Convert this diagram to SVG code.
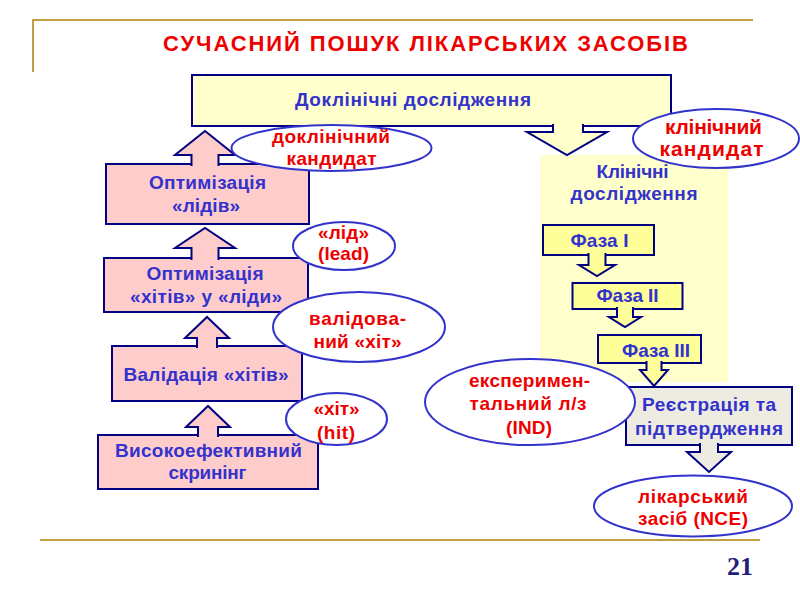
<svg xmlns="http://www.w3.org/2000/svg" width="800" height="600" viewBox="0 0 800 600">
<style>
  text { font-family: "Liberation Sans", Arial, sans-serif; font-weight: bold; text-anchor: middle; }
  .t { font-size: 19px; fill: #3333CC; }
  .r { font-size: 19px; fill: #EE0000; }
  .r21 { font-size: 21px; fill: #EE0000; }
  .title { font-size: 22px; fill: #EE0000; }
  .pink { fill: #FFCCCC; stroke: #000080; stroke-width: 2; }
  .ylt { fill: #FFFFCC; stroke: #000080; stroke-width: 2; }
  .ydk { fill: #FFFF99; stroke: #000080; stroke-width: 2; }
  .beige { fill: #EEECE1; stroke: #000080; stroke-width: 2; }
  .ell { fill: #FFFFFF; stroke: #3333CC; stroke-width: 2; }
  .gold { stroke: #C0A040; stroke-width: 2; fill: none; }
  .num { font-family: "Liberation Serif", "Times New Roman", serif; font-size: 26px; fill: #1F1F7A; }
</style>

<g id="frame">
  <path class="gold" d="M33,72 V20 H753"/>
  <line class="gold" x1="40" y1="540" x2="760" y2="540"/>
  <text class="title" x="425.5" y="51" textLength="525" lengthAdjust="spacing">СУЧАСНИЙ ПОШУК ЛІКАРСЬКИХ ЗАСОБІВ</text>
  <text class="num" x="740" y="575">21</text>
</g>

<g id="clinical-area">
  <rect x="540" y="155" width="188" height="227" fill="#FFFFCC"/>
  <text class="t" x="632.5" y="177.5" textLength="72" lengthAdjust="spacing">Клінічні</text>
  <text class="t" x="634" y="200" textLength="127" lengthAdjust="spacing">дослідження</text>
</g>

<g id="preclinical">
  <rect class="ylt" x="192" y="75" width="479" height="51"/>
  <text class="t" x="413" y="106" textLength="236" lengthAdjust="spacing">Доклінічні дослідження</text>
</g>

<g id="opt-leads">
  <rect class="pink" x="106" y="164" width="203" height="60"/>
  <text class="t" x="207.5" y="188.5" textLength="117" lengthAdjust="spacing">Оптимізація</text>
  <text class="t" x="206" y="211.5" textLength="68" lengthAdjust="spacing">«лідів»</text>
</g>

<g id="opt-hits">
  <rect class="pink" x="104" y="258" width="204" height="54"/>
  <text class="t" x="205" y="280" textLength="117" lengthAdjust="spacing">Оптимізація</text>
  <text class="t" x="206" y="302.5" textLength="152" lengthAdjust="spacing">«хітів» у «ліди»</text>
</g>

<g id="validation">
  <rect class="pink" x="112" y="346" width="190" height="55"/>
  <text class="t" x="206" y="380.5" textLength="165" lengthAdjust="spacing">Валідація «хітів»</text>
</g>

<g id="screening">
  <rect class="pink" x="98" y="435" width="220" height="54"/>
  <text class="t" x="208.5" y="456.5" textLength="187" lengthAdjust="spacing">Високоефективний</text>
  <text class="t" x="207.5" y="478.5" textLength="78" lengthAdjust="spacing">скринінг</text>
</g>

<g id="phase1">
  <rect class="ydk" x="543" y="225" width="111" height="30"/>
  <text class="t" x="599.5" y="246.5" textLength="58" lengthAdjust="spacing">Фаза I</text>
</g>

<g id="phase2">
  <rect class="ydk" x="572.5" y="283" width="110" height="26"/>
  <text class="t" x="627.5" y="302" textLength="62" lengthAdjust="spacing">Фаза II</text>
</g>

<g id="phase3">
  <rect class="ydk" x="598" y="335" width="103" height="28"/>
  <text class="t" x="656" y="356.5" textLength="68" lengthAdjust="spacing">Фаза III</text>
</g>

<g id="registration">
  <rect class="beige" x="626" y="387" width="166" height="58"/>
  <text class="t" x="709" y="411" textLength="134" lengthAdjust="spacing">Реєстрація та</text>
  <text class="t" x="709" y="435" textLength="148" lengthAdjust="spacing">підтвердження</text>
</g>

<g id="connectors">
  <path class="pink" d="M191.5,166 V155 H175 L205,131 L235,155 H218.5 V166"/>
  <path class="pink" d="M191.5,260 V248 H175 L205,228 L235,248 H218.5 V260"/>
  <path class="pink" d="M197,348 V338 H185 L207,317 L229,338 H217 V348"/>
  <path class="pink" d="M198,437 V427 H186 L208,406 L230,427 H218 V437"/>
  <path class="ylt" d="M553,124 V132 H527 L567,155 L607,132 H583 V124"/>
  <path class="ydk" d="M588.5,253 V265 H579 L597,276 L615,265 H605.5 V253"/>
  <path class="ydk" d="M617,307 V317 H609 L625,327 L641,317 H633 V307"/>
  <path class="ydk" d="M646.5,361 V370 H640 L654,386 L668,370 H661.5 V361"/>
  <path class="beige" d="M700,443 V452 H687 L709,472 L731,452 H718 V443"/>
</g>

<g id="preclinical-candidate">
  <ellipse class="ell" cx="331.5" cy="148" rx="100" ry="23"/>
  <text class="r" x="331" y="142.5" textLength="118" lengthAdjust="spacing">доклінічний</text>
  <text class="r" x="331.5" y="164.5" textLength="90" lengthAdjust="spacing">кандидат</text>
</g>

<g id="clinical-candidate">
  <ellipse class="ell" cx="716" cy="138.5" rx="83" ry="29.5"/>
  <text class="r21" x="713.5" y="133.5" textLength="97" lengthAdjust="spacing">клінічний</text>
  <text class="r21" x="711.5" y="156" textLength="104" lengthAdjust="spacing">кандидат</text>
</g>

<g id="lead">
  <ellipse class="ell" cx="344" cy="246" rx="51" ry="24"/>
  <text class="r" x="343.5" y="238.5" textLength="51" lengthAdjust="spacing">«лід»</text>
  <text class="r" x="343.5" y="259.5" textLength="51" lengthAdjust="spacing">(lead)</text>
</g>

<g id="validated-hit">
  <ellipse class="ell" cx="359" cy="327" rx="86" ry="35"/>
  <text class="r" x="357.5" y="325" textLength="97" lengthAdjust="spacing">валідова-</text>
  <text class="r" x="357.5" y="347.5" textLength="88" lengthAdjust="spacing">ний «хіт»</text>
</g>

<g id="hit">
  <ellipse class="ell" cx="336.5" cy="419" rx="50.5" ry="26"/>
  <text class="r" x="336.5" y="415" textLength="46" lengthAdjust="spacing">«хіт»</text>
  <text class="r" x="336" y="438.5" textLength="38" lengthAdjust="spacing">(hit)</text>
</g>

<g id="ind">
  <ellipse class="ell" cx="530" cy="402" rx="105" ry="43"/>
  <text class="r" x="529.5" y="386.5" textLength="121" lengthAdjust="spacing">експеримен-</text>
  <text class="r" x="528" y="410" textLength="117" lengthAdjust="spacing">тальний л/з</text>
  <text class="r" x="529" y="433.5" textLength="46" lengthAdjust="spacing">(IND)</text>
</g>

<g id="nce">
  <ellipse class="ell" cx="693" cy="506" rx="99" ry="30.5"/>
  <text class="r" x="693" y="502.5" textLength="110" lengthAdjust="spacing">лікарський</text>
  <text class="r" x="693" y="525" textLength="110" lengthAdjust="spacing">засіб (NCE)</text>
</g>
</svg>
